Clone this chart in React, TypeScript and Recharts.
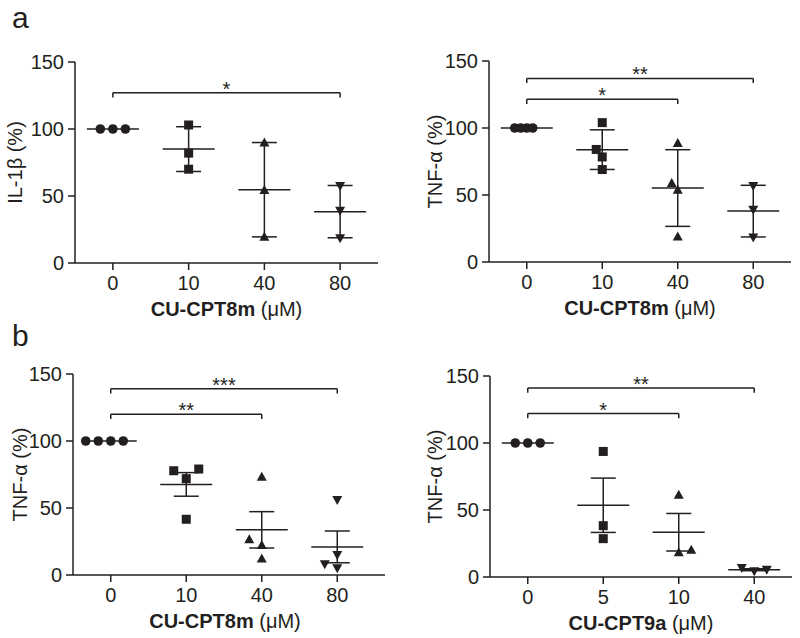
import React from "react";
import { ScatterChart, Scatter, XAxis, YAxis, ErrorBar, ReferenceLine } from "recharts";

const ink = "#231f20";
const font = "Arial, 'Liberation Sans', Helvetica, sans-serif";

const dosesCPT8m = ["0", "10", "40", "80"];
const dosesCPT9a = ["0", "5", "10", "40"];
const yTicks = [0, 50, 100, 150];

// a, left: IL-1β after CU-CPT8m (mean ± SD)
const il1bValues = [
  [100, 100, 100],
  [103, 82, 70],
  [90, 54.5, 19.6],
  [57.5, 39, 18.5],
];
// a, right: TNF-α after CU-CPT8m (mean ± SD)
const tnfSdValues = [
  [100, 100, 100, 100],
  [104, 78.4, 84, 69],
  [88.8, 54, 59, 19],
  [56.7, 39, 18.2],
];
// b, left: TNF-α after CU-CPT8m (mean ± SEM)
const tnf8mValues = [
  [100, 100, 100, 100],
  [71.9, 77.8, 79.1, 41.6],
  [73.4, 22.4, 26.6, 12.4],
  [56, 14.9, 5, 8],
];
// b, right: TNF-α after CU-CPT9a (mean ± SEM)
const tnf9aValues = [
  [100, 100, 100],
  [93.7, 38.3, 28.6],
  [61.4, 18.4, 20.4],
  [4.2, 5.4, 6.7],
];

const il1bBrackets = [{ from: 0, to: 3, level: 127, stars: "*" }];
const tnfSdBrackets = [
  { from: 0, to: 3, level: 137, stars: "**" },
  { from: 0, to: 2, level: 121.5, stars: "*" },
];
const tnf8mBrackets = [
  { from: 0, to: 3, level: 139, stars: "***" },
  { from: 0, to: 2, level: 120, stars: "**" },
];
const tnf9aBrackets = [
  { from: 0, to: 3, level: 141, stars: "**" },
  { from: 0, to: 2, level: 122, stars: "*" },
];

const mean = (v: number[]) => v.reduce((a, b) => a + b, 0) / v.length;
const sd = (v: number[]) => {
  const m = mean(v);
  return Math.sqrt(v.reduce((a, b) => a + (b - m) ** 2, 0) / (v.length - 1));
};
const sem = (v: number[]) => sd(v) / Math.sqrt(v.length);

// push overlapping points sideways, Prism style
function spread(values: number[], group: number, step: number, side: number) {
  const placed: { slot: number; y: number }[] = [];
  const order = [0, side, -side, 2 * side, -2 * side, 3 * side, -3 * side];
  return values.map((y) => {
    const slot =
      order.find((s) => !placed.some((p) => p.slot === s && Math.abs(p.y - y) < 7.5)) ?? 0;
    placed.push({ slot, y });
    return { x: group + slot * step, y };
  });
}

const Marker = ({ cx, cy, kind }: any) => {
  if (kind === 0) return <circle cx={cx} cy={cy} r={4.8} fill={ink} />;
  if (kind === 1) return <rect x={cx - 4.5} y={cy - 4.5} width={9} height={9} fill={ink} />;
  if (kind === 2)
    return <polygon points={`${cx},${cy - 5} ${cx + 5},${cy + 4} ${cx - 5},${cy + 4}`} fill={ink} />;
  return <polygon points={`${cx - 5},${cy - 4} ${cx + 5},${cy - 4} ${cx},${cy + 5}`} fill={ink} />;
};

const MeanLine = ({ cx, cy }: any) => (
  <line x1={cx - 26} x2={cx + 26} y1={cy} y2={cy} stroke={ink} strokeWidth={1.5} />
);

const Stars = ({ cx, cy, payload }: any) => (
  <text x={cx} y={cy + 3} textAnchor="middle" fontSize={20} fontFamily={font} fill={ink}>
    {payload.stars}
  </text>
);

const YTitle = ({ viewBox, text, dx }: any) => {
  const x = viewBox.x + dx;
  const y = viewBox.y + viewBox.height / 2;
  return (
    <text
      x={x}
      y={y}
      transform={`rotate(-90, ${x}, ${y})`}
      textAnchor="middle"
      dominantBaseline="central"
      fontSize={20}
      fontFamily={font}
      fill={ink}
    >
      {text}
    </text>
  );
};

const XTitle = ({ viewBox, bold, dx }: any) => (
  <text
    x={viewBox.x + viewBox.width / 2 + dx}
    y={viewBox.y + 53}
    textAnchor="middle"
    fontSize={20}
    fontFamily={font}
    fill={ink}
  >
    <tspan fontWeight="bold">{bold}</tspan>
    <tspan>{" (μM)"}</tspan>
  </text>
);

const Panel = ({
  values,
  doses,
  brackets,
  errType,
  yTitle,
  xBold,
  left,
  top,
  height,
  plotLeft,
  plotRight,
  plotTop,
  plotBottom,
  padRight = 0,
  yTitleX,
  xTitleDx = 0,
  stepPx,
  side,
}: any) => {
  const step = stepPx / 75.5;
  const means = values.map((v: number[], i: number) => ({
    x: i,
    y: mean(v),
    err: errType === "sd" ? sd(v) : sem(v),
  }));
  const starData = brackets.map((b: any) => ({ x: (b.from + b.to) / 2, y: b.level, stars: b.stars }));
  return (
    <div style={{ position: "absolute", left, top }}>
      <ScatterChart
        width={400}
        height={height}
        margin={{ top: plotTop, right: 400 - plotRight, left: 0, bottom: 0 }}
      >
        <XAxis
          type="number"
          dataKey="x"
          domain={[-0.5, 3.5]}
          ticks={[0, 1, 2, 3]}
          allowDataOverflow
          padding={{ left: 0, right: padRight }}
          tickFormatter={(v: number) => doses[v] ?? ""}
          height={height - plotBottom}
          tickSize={7}
          tickMargin={6}
          tick={{ fill: ink, fontSize: 20, fontFamily: font }}
          axisLine={{ stroke: ink, strokeWidth: 1.5 }}
          tickLine={{ stroke: ink, strokeWidth: 1.5 }}
          label={<XTitle bold={xBold} dx={xTitleDx} />}
        />
        <YAxis
          type="number"
          dataKey="y"
          domain={[0, 150]}
          ticks={yTicks}
          allowDataOverflow
          width={plotLeft}
          tickSize={7}
          tickMargin={4}
          tick={{ fill: ink, fontSize: 20, fontFamily: font }}
          axisLine={{ stroke: ink, strokeWidth: 1.5 }}
          tickLine={{ stroke: ink, strokeWidth: 1.5 }}
          label={<YTitle text={yTitle} dx={yTitleX} />}
        />
        {brackets.map((b: any, i: number) => (
          <ReferenceLine
            key={`h${i}`}
            segment={[
              { x: b.from, y: b.level },
              { x: b.to, y: b.level },
            ]}
            stroke={ink}
            strokeWidth={1.5}
          />
        ))}
        {brackets.map((b: any, i: number) => (
          <ReferenceLine
            key={`l${i}`}
            segment={[
              { x: b.from, y: b.level },
              { x: b.from, y: b.level - 3.5 },
            ]}
            stroke={ink}
            strokeWidth={1.5}
          />
        ))}
        {brackets.map((b: any, i: number) => (
          <ReferenceLine
            key={`r${i}`}
            segment={[
              { x: b.to, y: b.level },
              { x: b.to, y: b.level - 3.5 },
            ]}
            stroke={ink}
            strokeWidth={1.5}
          />
        ))}
        <Scatter data={means} shape={<MeanLine />} isAnimationActive={false}>
          <ErrorBar dataKey="err" direction="y" width={12.5} stroke={ink} strokeWidth={1.5} />
        </Scatter>
        {values.map((v: number[], i: number) => (
          <Scatter
            key={i}
            data={spread(v, i, step, side)}
            shape={<Marker kind={i} />}
            isAnimationActive={false}
          />
        ))}
        <Scatter data={starData} shape={<Stars />} isAnimationActive={false} />
      </ScatterChart>
    </div>
  );
};

export default function App() {
  return (
    <div
      style={{
        position: "absolute",
        left: 0,
        top: 0,
        width: 800,
        height: 638,
        background: "#fff",
        fontFamily: font,
      }}
    >
      <Panel
        values={il1bValues}
        doses={dosesCPT8m}
        brackets={il1bBrackets}
        errType="sd"
        yTitle="IL-1β (%)"
        xBold="CU-CPT8m"
        left={0}
        top={0}
        height={320}
        plotLeft={75}
        plotRight={378}
        plotTop={62}
        plotBottom={263}
        yTitleX={15}
        stepPx={12.5}
        side={1}
      />
      <Panel
        values={tnfSdValues}
        doses={dosesCPT8m}
        brackets={tnfSdBrackets}
        errType="sd"
        yTitle="TNF-α (%)"
        xBold="CU-CPT8m"
        left={400}
        top={0}
        height={320}
        plotLeft={89}
        plotRight={391}
        plotTop={61}
        plotBottom={262}
        yTitleX={35}
        stepPx={6}
        side={-1}
      />
      <Panel
        values={tnf8mValues}
        doses={dosesCPT8m}
        brackets={tnf8mBrackets}
        errType="sem"
        yTitle="TNF-α (%)"
        xBold="CU-CPT8m"
        left={0}
        top={320}
        height={318}
        plotLeft={73}
        plotRight={385}
        plotTop={54}
        plotBottom={255}
        padRight={10}
        yTitleX={20}
        xTitleDx={-4}
        stepPx={12.5}
        side={-1}
      />
      <Panel
        values={tnf9aValues}
        doses={dosesCPT9a}
        brackets={tnf9aBrackets}
        errType="sem"
        yTitle="TNF-α (%)"
        xBold="CU-CPT9a"
        left={400}
        top={320}
        height={318}
        plotLeft={90}
        plotRight={392}
        plotTop={56}
        plotBottom={257}
        yTitleX={35}
        stepPx={12.5}
        side={1}
      />
      <svg
        width={800}
        height={638}
        style={{ position: "absolute", left: 0, top: 0, pointerEvents: "none" }}
      >
        <text x={12} y={28} fontSize={30} fontFamily={font} fill={ink}>
          a
        </text>
        <text x={12} y={346} fontSize={30} fontFamily={font} fill={ink}>
          b
        </text>
      </svg>
    </div>
  );
}
